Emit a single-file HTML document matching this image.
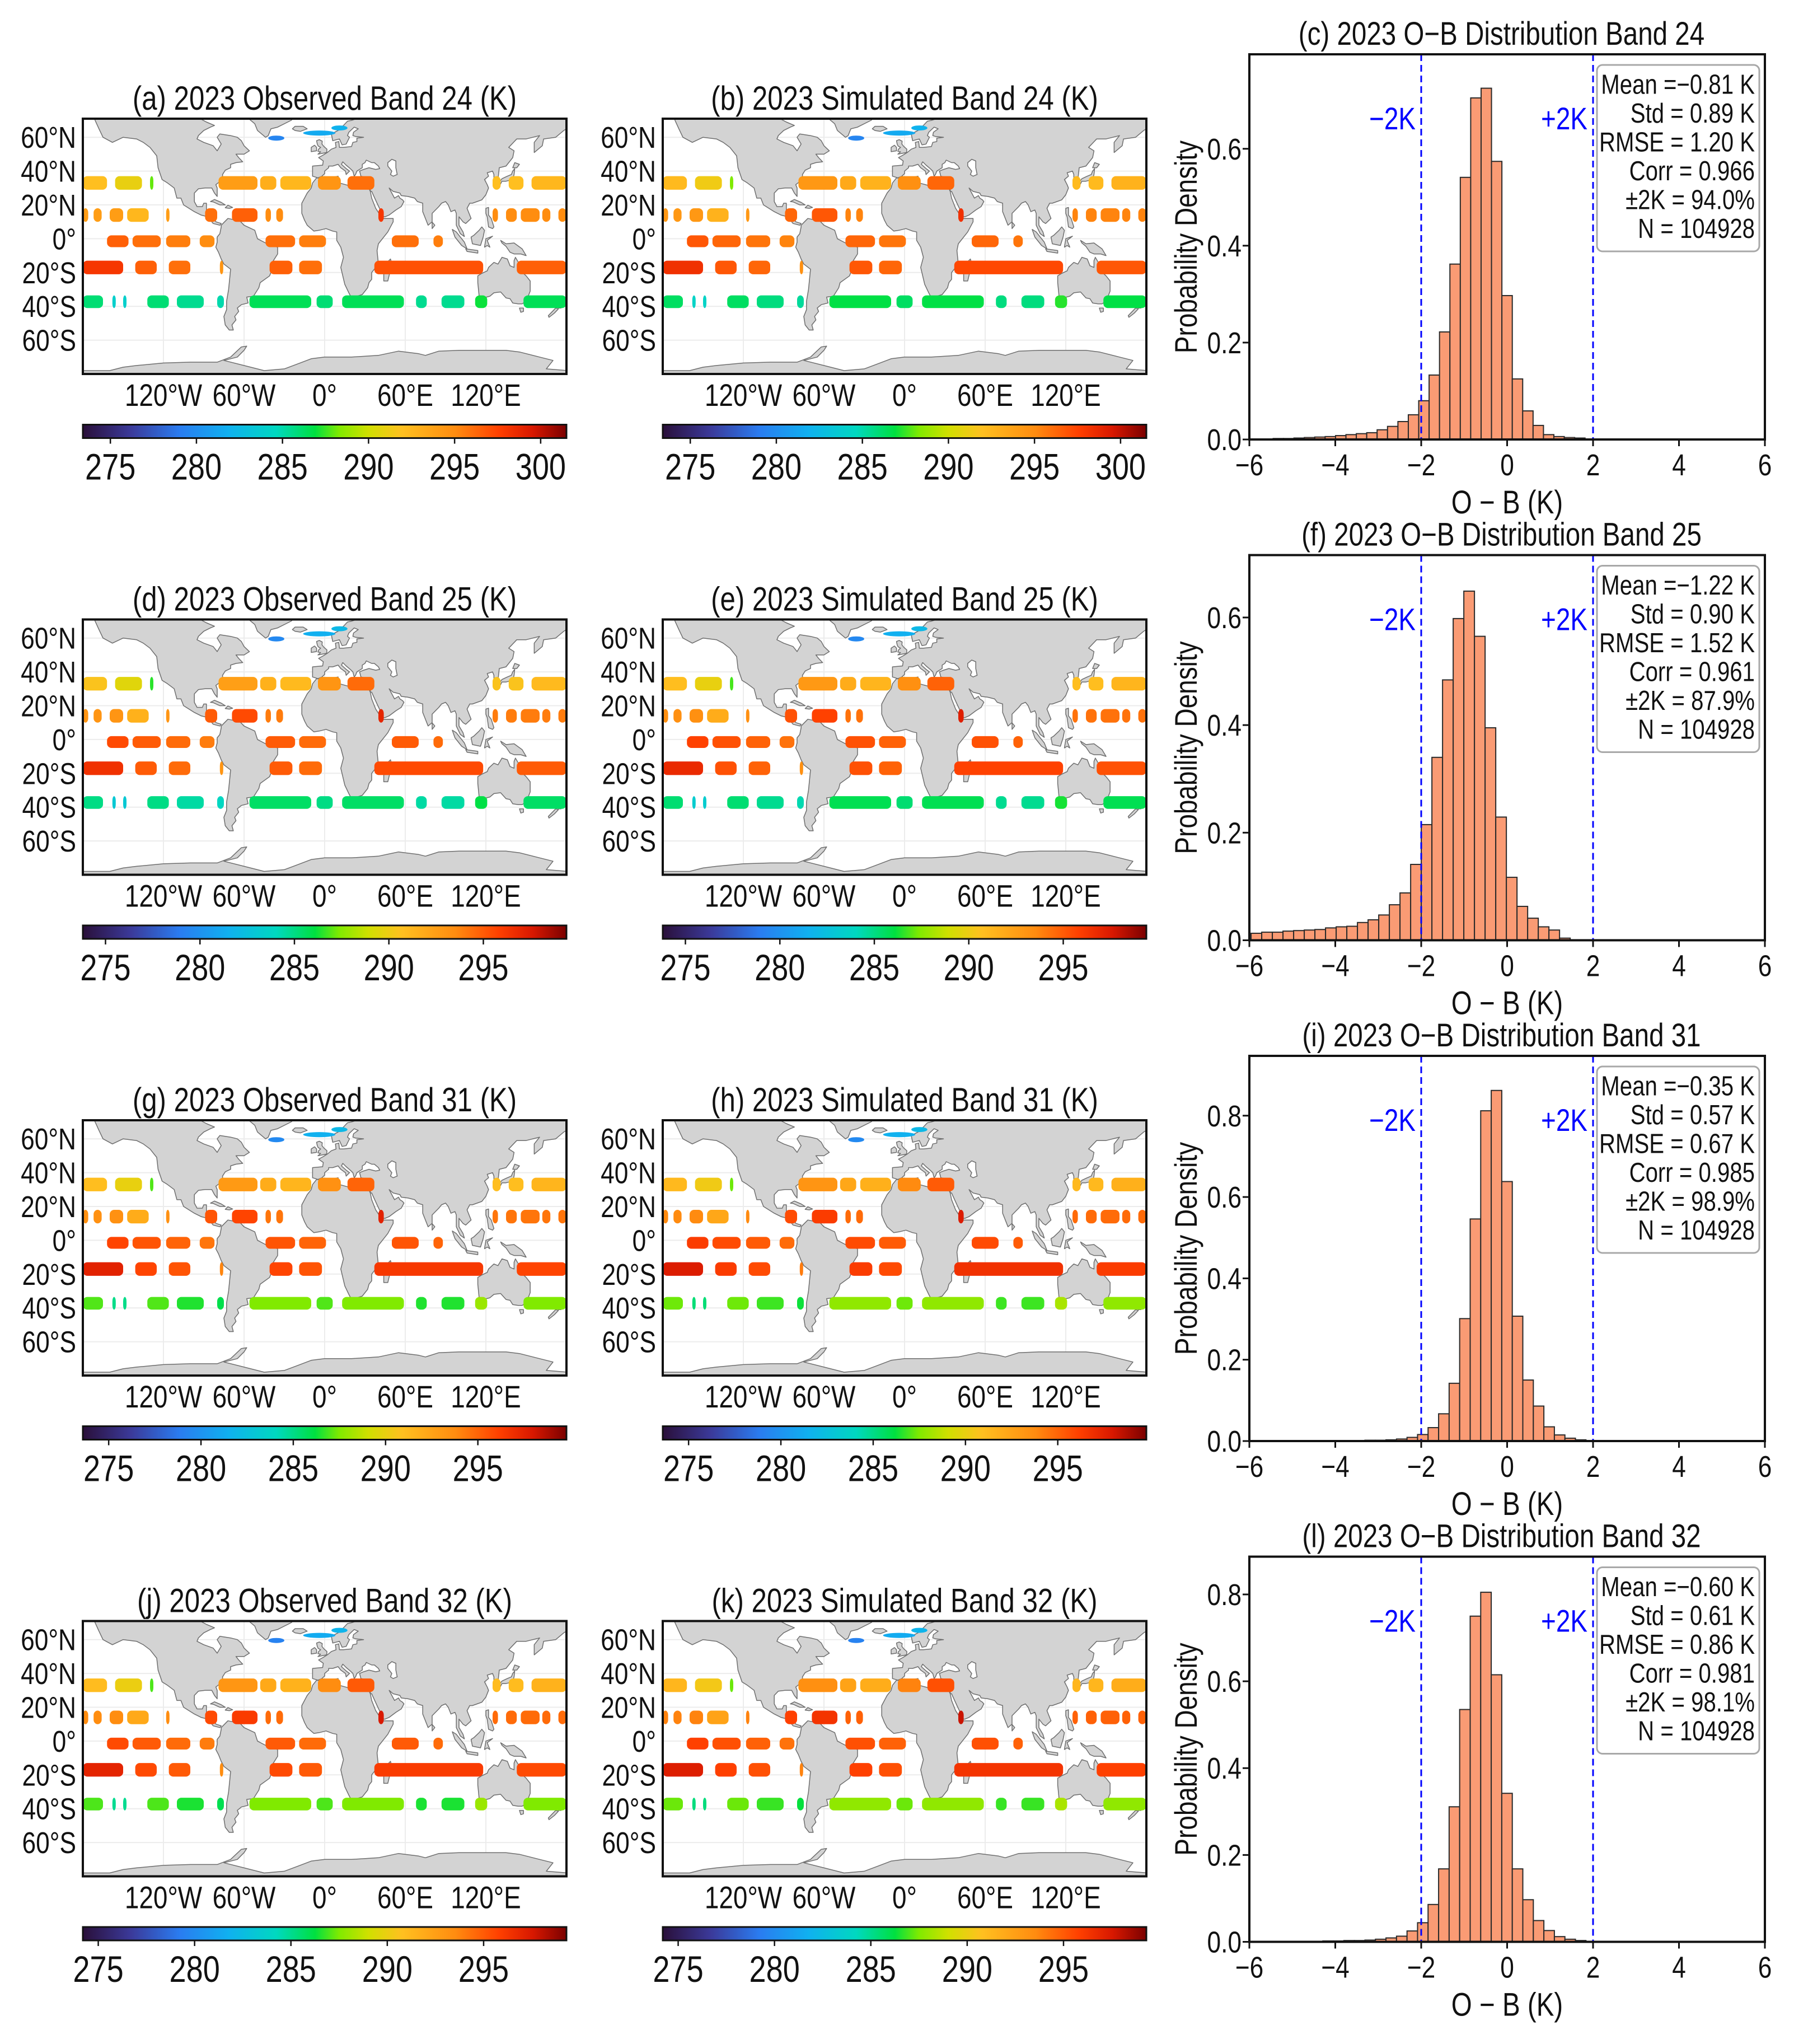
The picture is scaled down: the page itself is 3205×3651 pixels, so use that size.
<!DOCTYPE html>
<html><head><meta charset="utf-8"><style>
html,body{margin:0;padding:0;background:#fff;}
svg{display:block;font-family:"Liberation Sans",sans-serif;}
</style></head><body>
<svg id="fig" xmlns="http://www.w3.org/2000/svg" width="3205" height="3651" viewBox="0 0 3205 3651"></svg>
<script>
// ---------- DATA ----------
const rowTitles = ["24","25","31","32"];
const histLetters = ["c","f","i","l"];
const obsLetters = ["a","d","g","j"];
const simLetters = ["b","e","h","k"];
const cbarMin = [273.4, 273.8, 273.6, 274.2];
const cbarMax = [301.5, 299.4, 299.8, 299.3];
const cbarTicks0 = [275,280,285,290,295,300];
const cbarTicks1 = [275,280,285,290,295];
const latTicks = [60,40,20,0,-20,-40,-60];
const latTickLabels = ["60°N","40°N","20°N","0°","20°S","40°S","60°S"];
const lonTicks = [-120,-60,0,60,120];
const lonTickLabels = ["120°W","60°W","0°","60°E","120°E"];
const xTicks = [-6,-4,-2,0,2,4,6];
const xTickLabels = ["−6","−4","−2","0","2","4","6"];
const yTicksAll = [0,0.2,0.4,0.6,0.8];
const histYMax = [0.795, 0.716, 0.947, 0.887];

const histC_start = -5.93, histC_width = 0.242;
const histC_values = [0.001,0.001,0.002,0.002,0.003,0.004,0.005,0.006,0.008,0.01,0.012,0.014,0.02,0.027,0.037,0.051,0.08,0.133,0.222,0.362,0.541,0.705,0.725,0.574,0.297,0.125,0.059,0.029,0.01,0.006,0.004,0.003,0.001,0.001,0.0005];
const histF_start = -5.96, histF_width = 0.2476;
const histF_values = [0.013,0.015,0.015,0.017,0.018,0.019,0.02,0.023,0.025,0.026,0.033,0.038,0.047,0.066,0.088,0.141,0.215,0.34,0.484,0.598,0.649,0.565,0.395,0.229,0.117,0.063,0.041,0.025,0.019,0.004];
const histI_start = -3.80, histI_width = 0.245;
const histI_values = [0.001,0.001,0.002,0.002,0.003,0.005,0.009,0.016,0.033,0.067,0.142,0.301,0.546,0.812,0.862,0.638,0.307,0.15,0.086,0.035,0.015,0.007,0.003,0.001];
const histL_start = -4.78, histL_width = 0.245;
const histL_values = [0.001,0.001,0.002,0.002,0.003,0.003,0.004,0.006,0.009,0.013,0.025,0.044,0.086,0.168,0.311,0.535,0.75,0.805,0.615,0.342,0.168,0.097,0.049,0.026,0.012,0.006,0.003,0.001];

const statsMean = ["−0.81","−1.22","−0.35","−0.60"];
const statsStd = ["0.89","0.90","0.57","0.61"];
const statsRmse = ["1.20","1.52","0.67","0.86"];
const statsCorr = ["0.966","0.961","0.985","0.981"];
const statsWithin = ["94.0","87.9","98.9","98.1"];
const statsN = ["104928","104928","104928","104928"];

const bandLats = [[29,37],[10,18],[-5,2],[-21,-13],[-41,-33.5]];
const bandBase = [
  [293,294,295.5,296.5,286],
  [291.5,293,294.5,295,285],
  [292,293.5,295,296,287],
  [292,293.5,294.5,295.5,287]
];
// segments: [band, lon0, lon1, dT]
const swathSegments = [
  [0,-180,-162,-1],[0,-156,-136,-2],[0,-130,-128,-5],[0,-79,-50,1],[0,-48,-36,0],[0,-33,-10,-0.5],[0,-5,12,1.5],[0,17,37,3],[0,125,131,-1],[0,137,148,-1],[0,154,180,-0.5],
  [1,-180,-176,0],[1,-172,-166,0],[1,-160,-150,0],[1,-147,-131,-1.5],[1,-118,-117,0],[1,-89,-80,2],[1,-69,-50,2.5],[1,-44,-40,1],[1,-36,-31,1],[1,40,44,4],[1,125,129,1],[1,135,143,1],[1,146,160,1],[1,162,168,1],[1,174,180,1],
  [2,-162,-146,1],[2,-143,-122,0.5],[2,-118,-100,0],[2,-93,-82,-0.5],[2,-44,-22,0.5],[2,-19,1,0],[2,50,70,0.5],[2,81,88,0],
  [3,-180,-150,1.5],[3,-141,-125,0],[3,-116,-100,-0.5],[3,-78,-76,-2],[3,-41,-24,0],[3,-19,-2,-0.5],[3,37,118,0.5],[3,143,180,0],
  [4,-180,-165,0],[4,-158,-156,-2],[4,-150,-148,-2],[4,-132,-116,0],[4,-110,-90,-0.5],[4,-80,-75,-1],[4,-56,-10,0.5],[4,-6,6,0],[4,13,59,0.5],[4,68,76,-0.5],[4,87,104,-0.5],[4,112,121,1],[4,148,180,0.5]
];
const northPatches = [[-42,-30,58,61,279.5],[-16,8,61,64,281.5],[5,17,64,67,282]];

// ---------- LAND ----------
const land = [
 [[-168,65],[-165,60],[-158,57],[-150,60],[-140,59],[-135,57],[-130,54],[-125,49],[-124,42],[-121,35],[-117,33],[-112,30],[-110,24],[-107,24],[-105,20],[-97,16],[-92,14],[-87,13],[-83,9],[-78,8],[-77,9],[-81,10],[-83,15],[-88,16],[-88,21],[-90,21],[-91,19],[-95,19],[-97,22],[-97,27],[-94,29.5],[-89,30],[-84,30],[-82,27],[-80,25],[-80,30],[-81,32],[-76,35],[-76,38],[-74,40.5],[-70,42],[-70,44],[-66,45],[-61,45.5],[-64,48],[-66,50],[-60,50],[-56,52],[-60,55],[-62,58],[-65,60],[-70,61],[-78,62],[-80,60],[-77,56],[-80,52],[-83,55],[-90,57],[-95,59],[-94,61],[-90,64],[-85,66],[-82,67],[-88,69],[-95,72],[-172,72]],
 [[-58,72],[-52,68],[-50,64],[-44,60],[-42,61],[-40,65],[-35,66],[-25,70],[-22,72]],
 [[-24,65],[-22,66.5],[-16,66.5],[-13,65],[-18,63.5],[-22,64]],
 [[-77,8],[-72,12],[-63,10.5],[-60,8],[-52,5],[-50,0],[-44,-2.5],[-35,-5],[-35,-9],[-39,-14],[-39,-18],[-41,-22],[-48,-26],[-49,-29],[-53,-34],[-58,-34.5],[-57,-38],[-62,-39],[-65,-41],[-64,-43],[-67,-46],[-66,-48],[-69,-51],[-68,-54],[-71,-54],[-74,-51],[-75,-46],[-73,-42],[-73,-37],[-71.5,-30],[-70,-18],[-75,-15],[-77,-12],[-79,-8],[-81,-5],[-80,-2],[-80,1],[-78,3],[-77,7]],
 [[-17,15],[-17,21],[-13,27],[-10,30],[-9,33],[-6,36],[0,35.5],[10,37],[11,33],[20,31],[30,31],[32,31.5],[34,28],[35,24],[38,18],[43,12],[51,12],[51,10],[47,4],[40,-3],[39,-7],[40,-15],[35,-20],[35,-24],[33,-26],[32,-29],[28,-33],[20,-35],[18,-32],[15,-27],[12,-17],[14,-11],[12,-5],[9,-1],[9,4],[6,4.5],[1,6],[-4,5],[-8,4.5],[-13,8],[-15,11]],
 [[44,-25],[47,-25],[50,-15],[49,-12],[44,-16]],
 [[-9,37],[-9,43],[-1.5,43.5],[-1,46],[-4.5,48],[-1,49.5],[2,51],[5,53],[8.5,54],[8,57],[10.5,57.5],[11,54],[14,54],[20,54.5],[21,57],[24,57.5],[24,59.5],[29,60],[23,60.5],[21,61],[21.5,63],[25,65],[22,66],[18,63],[17,61],[18.5,60],[16,56],[13,55.5],[11,59],[6,58],[5,62],[10,64],[14,67],[17,69.5],[20,70],[28,72],[180,72],[180,65],[178,64],[172,60],[163,59],[162,55],[156,51],[156,57],[160,61],[150,59],[143,59],[137,54],[141,52],[140,48],[135,43],[130,42],[129,35],[126,35],[126,38],[125,40],[121,39],[122,37],[119,35],[121,32],[122,30],[120,26],[117,23],[110,21],[108,21],[106,18],[109,12],[105,9],[103,10],[100,13],[100,8],[103,4],[104,1.3],[101,3],[98,8],[98,15],[97,17],[94,16],[92,20],[90,22],[87,21],[85,19],[80,15],[80,10],[77,8],[73,16],[73,21],[69,22],[67,24],[62,25],[57,25.5],[56,27],[51,28],[48,30],[50,27],[52,24],[55,25.5],[56,24],[58,23],[59,22],[57,19],[53,17],[48,14],[45,13],[43,13],[42,16],[39,21],[35,28],[34,28],[34,31],[35,33],[36,36],[30,36.5],[27,37],[26,40],[29,41],[33,42],[38,41],[41,41.5],[40,43],[37,45],[35,45],[31,46.5],[30,45],[28,44],[28,42],[24,40],[23,38],[22,37],[21,40],[19,41.5],[16,43.5],[13.5,45.5],[12.5,44],[16,41.5],[18.5,40],[16,38],[15.5,40],[12,42],[10,44],[6,43],[3,43],[3,42],[0,40],[0,38.5],[-2,37],[-5,36]],
 [[-5,50],[1.5,51],[1.7,53],[-0.5,54.5],[-2,56],[-1.8,57.7],[-4,58.6],[-6,58],[-5.5,56],[-4.8,54.8],[-3,54],[-4.5,53],[-5,51.7],[-3,51.4]],
 [[-10,51.5],[-6,52],[-6,54],[-7.5,55.3],[-10,54]],
 [[130,31],[132,34],[135,34],[140,35],[141,38],[141.5,41.5],[140,40],[139,38],[136,37],[132,35.5],[130,33.5]],
 [[140,42],[141.5,45],[145,44],[143,42]],
 [[120,18],[122,18.5],[122,14],[124,12],[126,7],[125,6],[122,7],[121,13],[120,15]],
 [[109,1],[110,-3],[116,-4],[118,1],[119,5],[117,7],[115,5],[111,2]],
 [[95,5.5],[98,4],[104,-2],[106,-6],[102,-4],[97,1]],
 [[105,-6],[114,-7],[114,-8.5],[106,-7.5]],
 [[119,-5],[120,0],[125,1.5],[121,-1],[123,-5],[121,-4]],
 [[131,-1],[135,-3],[141,-2.5],[147,-6],[150,-10],[146,-9],[141,-9],[138,-8],[135,-4.5],[132,-2.5]],
 [[114,-22],[114,-26],[115,-34],[118,-35],[123,-34],[126,-32],[131,-31.5],[135,-35],[138,-35.5],[140,-38],[144,-38.5],[147,-38.5],[150,-37],[153,-31],[153,-25],[150,-22],[146,-19],[145,-15],[142,-11],[141,-13],[141,-17],[138,-16],[136,-12],[132,-11],[129,-15],[126,-14],[122,-17],[121,-19],[117,-20.5]],
 [[145,-41],[148,-41],[148,-43],[146,-43.5]],
 [[173,-35],[175,-37],[178,-38],[176,-41],[174,-41],[174.5,-39]],
 [[172,-41],[174,-41.5],[171,-44],[167,-46.5],[166.5,-45.5]],
 [[80,6],[80,9.8],[82,8]],
 [[-85,22],[-82,23.2],[-77,21.5],[-74,20],[-78,20],[-83,21.8]],
 [[-74,18.3],[-72,19.8],[-68.5,18.5],[-71,18]],
 [[-181,-81],[-180,-78],[-160,-78],[-150,-76],[-140,-75],[-120,-73.5],[-100,-73],[-80,-73],[-70,-70],[-62,-64],[-58,-63.5],[-60,-66],[-65,-70],[-75,-72],[-60,-75],[-45,-78],[-30,-77],[-20,-74],[-10,-71],[0,-70],[20,-70],[40,-69],[55,-66.5],[70,-68],[75,-69],[85,-66.5],[100,-66],[120,-66],[135,-66],[145,-67],[160,-70],[170,-72],[165,-77],[181,-78],[181,-81]]
];
const lakes = [[[47,45],[50,47],[53,46],[53,42],[54,38],[51,37],[49,38],[50,40],[47,43]]];

// ---------- HELPERS ----------
const NS = "http://www.w3.org/2000/svg";
const svg = document.getElementById("fig");
const SQ = 0.82; // horizontal condensing of text
function mk(tag, attrs, parent){
  const e = document.createElementNS(NS, tag);
  for (const k in attrs) e.setAttribute(k, attrs[k]);
  (parent||svg).appendChild(e);
  return e;
}
function txt(parent, x, y, s, size, anchor, name, extra, rot){
  const tf = "translate(" + x + "," + y + ")" + (rot ? " rotate(" + rot + ")" : "") + " scale(" + SQ + ",1)";
  const e = mk("text", Object.assign({x:0, y:0, transform:tf, "font-size":size, "text-anchor":anchor||"middle", fill:"#111"}, extra||{}), parent);
  e.textContent = s;
  
  
  return e;
}
const cmapStops = [[0,"#2a0f3a"],[0.1,"#3b3a9a"],[0.2,"#2a7cf0"],[0.3,"#10b0f0"],[0.4,"#00d8c0"],[0.48,"#00e040"],[0.53,"#80ea00"],[0.59,"#d0e000"],[0.66,"#ffc020"],[0.77,"#ff8c10"],[0.86,"#ff4000"],[0.93,"#d81800"],[1,"#7a0000"]];
function hexToRgb(h){return [parseInt(h.substr(1,2),16),parseInt(h.substr(3,2),16),parseInt(h.substr(5,2),16)];}
function cmap(f){
  f=Math.max(0,Math.min(1,f));
  for(let i=1;i<cmapStops.length;i++){
    if(f<=cmapStops[i][0]){
      const a=cmapStops[i-1], b=cmapStops[i];
      const t=(f-a[0])/(b[0]-a[0]);
      const ca=hexToRgb(a[1]), cb=hexToRgb(b[1]);
      return "rgb("+ca.map((v,k)=>Math.round(v+(cb[k]-v)*t)).join(",")+")";
    }
  }
  return cmapStops[cmapStops.length-1][1];
}

const ROW = 894.5;
const MAP_W = 864, MAP_H = 456, MAP_TOP = 212, LAT_TOP = 71, LAT_BOT = -80;
const mapCols = [148, 1184];

function drawMap(r, c, letter, kind){
  const x0 = mapCols[c], y0 = MAP_TOP + r*ROW;
  const g = mk("g", {});
  
  
  const lx = lon => x0 + (lon+180)/360*MAP_W;
  const ly = lat => y0 + (LAT_TOP-lat)/(LAT_TOP-LAT_BOT)*MAP_H;
  const cid = "clip"+r+"_"+c;
  const cp = mk("clipPath", {id:cid}, g);
  mk("rect", {x:x0, y:y0, width:MAP_W, height:MAP_H}, cp);
  const inner = mk("g", {"clip-path":"url(#"+cid+")"}, g);
  mk("rect", {x:x0, y:y0, width:MAP_W, height:MAP_H, fill:"#fff"}, inner);
  for (const lat of latTicks){
    const ln = mk("line", {x1:x0, x2:x0+MAP_W, y1:ly(lat), y2:ly(lat), stroke:"#ececec", "stroke-width":2}, inner);
    
    
  }
  for (const lon of lonTicks){
    const ln = mk("line", {x1:lx(lon), x2:lx(lon), y1:y0, y2:y0+MAP_H, stroke:"#ececec", "stroke-width":2}, inner);
    
    
  }
  for (const poly of land){
    const p = mk("polygon", {points: poly.map(q=>lx(q[0]).toFixed(1)+","+ly(q[1]).toFixed(1)).join(" "), fill:"#d3d3d3", stroke:"#6e6e6e", "stroke-width":1.5, "stroke-linejoin":"round"}, inner);
    
    
  }
  for (const poly of lakes){
    const p = mk("polygon", {points: poly.map(q=>lx(q[0]).toFixed(1)+","+ly(q[1]).toFixed(1)).join(" "), fill:"#fff", stroke:"#6e6e6e", "stroke-width":1.5}, inner);
    
    
  }
  const tmin = cbarMin[r], tmax = cbarMax[r];
  const simShift = kind === "simulated" ? 0.3 : 0;
  for (const s of swathSegments){
    const band = bandLats[s[0]];
    const t = bandBase[r][s[0]] + s[3] + simShift;
    const w = Math.max(lx(s[2])-lx(s[1]), 6);
    const rc = mk("rect", {x:lx(s[1]), y:ly(band[1]), width:w, height:ly(band[0])-ly(band[1]), rx:8, fill:cmap((t-tmin)/(tmax-tmin))}, inner);
    
    
  }
  for (const p of northPatches){
    const el = mk("ellipse", {cx:(lx(p[0])+lx(p[1]))/2, cy:(ly(p[2])+ly(p[3]))/2, rx:(lx(p[1])-lx(p[0]))/2, ry:(ly(p[2])-ly(p[3]))/2, fill:cmap((p[4]-tmin)/(tmax-tmin))}, inner);
    
    
  }
  const fr = mk("rect", {x:x0, y:y0, width:MAP_W, height:MAP_H, fill:"none", stroke:"#111", "stroke-width":4}, g);
  
  
  const title = "(" + letter + ") 2023 " + (kind==="observed"?"Observed":"Simulated") + " Band " + rowTitles[r] + " (K)";
  txt(g, x0+MAP_W/2, y0-16, title, 60, "middle", "map-title");
  latTicks.forEach((lat,i)=>{
    txt(g, x0-12, ly(lat)+19, latTickLabels[i], 54, "end", "lat-tick-label");
  });
  lonTicks.forEach((lon,i)=>{
    txt(g, lx(lon), y0+MAP_H+57, lonTickLabels[i], 56, "middle", "lon-tick-label");
  });
  const cy = 758.5 + r*ROW, ch = 24;
  const gid = "grad"+r+"_"+c;
  const defs = mk("defs", {}, g);
  const lg = mk("linearGradient", {id:gid, x1:0, x2:1, y1:0, y2:0}, defs);
  for (const st of cmapStops) mk("stop", {offset:st[0], "stop-color":st[1]}, lg);
  const cb = mk("rect", {x:x0, y:cy, width:MAP_W, height:ch, fill:"url(#"+gid+")", stroke:"#111", "stroke-width":3}, g);
  
  
  const ticks = r===0 ? cbarTicks0 : cbarTicks1;
  for (const t of ticks){
    const tx = x0 + (t-tmin)/(tmax-tmin)*MAP_W;
    mk("line", {x1:tx, x2:tx, y1:cy+ch, y2:cy+ch+10, stroke:"#111", "stroke-width":2.5}, g);
    txt(g, tx, cy+98, String(t), 66, "middle", "colorbar-tick-label");
  }
}

function drawHist(r){
  const starts = [histC_start, histF_start, histI_start, histL_start];
  const widths = [histC_width, histF_width, histI_width, histL_width];
  const vals = [histC_values, histF_values, histI_values, histL_values];
  const L = 2232, R = 3153, T = 97 + r*ROW, B = 785 + r*ROW;
  const ymax = histYMax[r];
  const sx = v => L + (v+6)/12*(R-L);
  const sy = v => B - v/ymax*(B-T);
  const g = mk("g", {});
  
  
  vals[r].forEach((v,i)=>{
    const a = starts[r] + i*widths[r];
    const bar = mk("rect", {x:sx(a), y:sy(v), width:sx(a+widths[r])-sx(a), height:B-sy(v), fill:"#fa9b74", stroke:"#2a2a2a", "stroke-width":2}, g);
    
    
  });
  for (const k of [-2,2]){
    const ln = mk("line", {x1:sx(k), x2:sx(k), y1:T, y2:B, stroke:"#0000ff", "stroke-width":3, "stroke-dasharray":"12,7"}, g);
    
    
    txt(g, sx(k)-10, T+134, k<0 ? "−2K" : "+2K", 56, "end", k<0 ? 'minus-2k-label' : 'plus-2k-label', {fill:"#0000ff"});
  }
  const ax = mk("rect", {x:L, y:T, width:R-L, height:B-T, fill:"none", stroke:"#111", "stroke-width":4}, g);
  
  
  xTicks.forEach((t,i)=>{
    mk("line", {x1:sx(t), x2:sx(t), y1:B, y2:B+12, stroke:"#111", "stroke-width":3}, g);
    txt(g, sx(t), B+64, xTickLabels[i], 54, "middle", "x-tick-label");
  });
  for (const t of yTicksAll){
    if (t > ymax) continue;
    mk("line", {x1:L-12, x2:L, y1:sy(t), y2:sy(t), stroke:"#111", "stroke-width":3}, g);
    txt(g, L-14, sy(t)+19, t.toFixed(1), 54, "end", "y-tick-label");
  }
  txt(g, (L+R)/2, B+132, "O − B (K)", 58, "middle", "x-axis-title");
  txt(g, 2138, (T+B)/2, "Probability Density", 56, "middle", "y-axis-title", {}, -90);
  txt(g, (L+R)/2-10, T-17, "(" + histLetters[r] + ") 2023 O−B Distribution Band " + rowTitles[r], 58, "middle", "hist-title");
  const bx = mk("rect", {x:2853, y:T+19, width:290, height:333, rx:10, fill:"#fff", "fill-opacity":0.85, stroke:"#a8a8a8", "stroke-width":3}, g);
  
  
  const lines = ["Mean =" + statsMean[r] + " K", "Std = " + statsStd[r] + " K", "RMSE = " + statsRmse[r] + " K", "Corr = " + statsCorr[r], "±2K = " + statsWithin[r] + "%", "N = " + statsN[r]];
  lines.forEach((s,i)=>{
    txt(g, 3135, T+70.5+i*51.5, s, 49, "end", "stats-line");
  });
}

for (let r=0; r<4; r++){
  drawMap(r, 0, obsLetters[r], "observed");
  drawMap(r, 1, simLetters[r], "simulated");
  drawHist(r);
}
</script>
</body></html>
